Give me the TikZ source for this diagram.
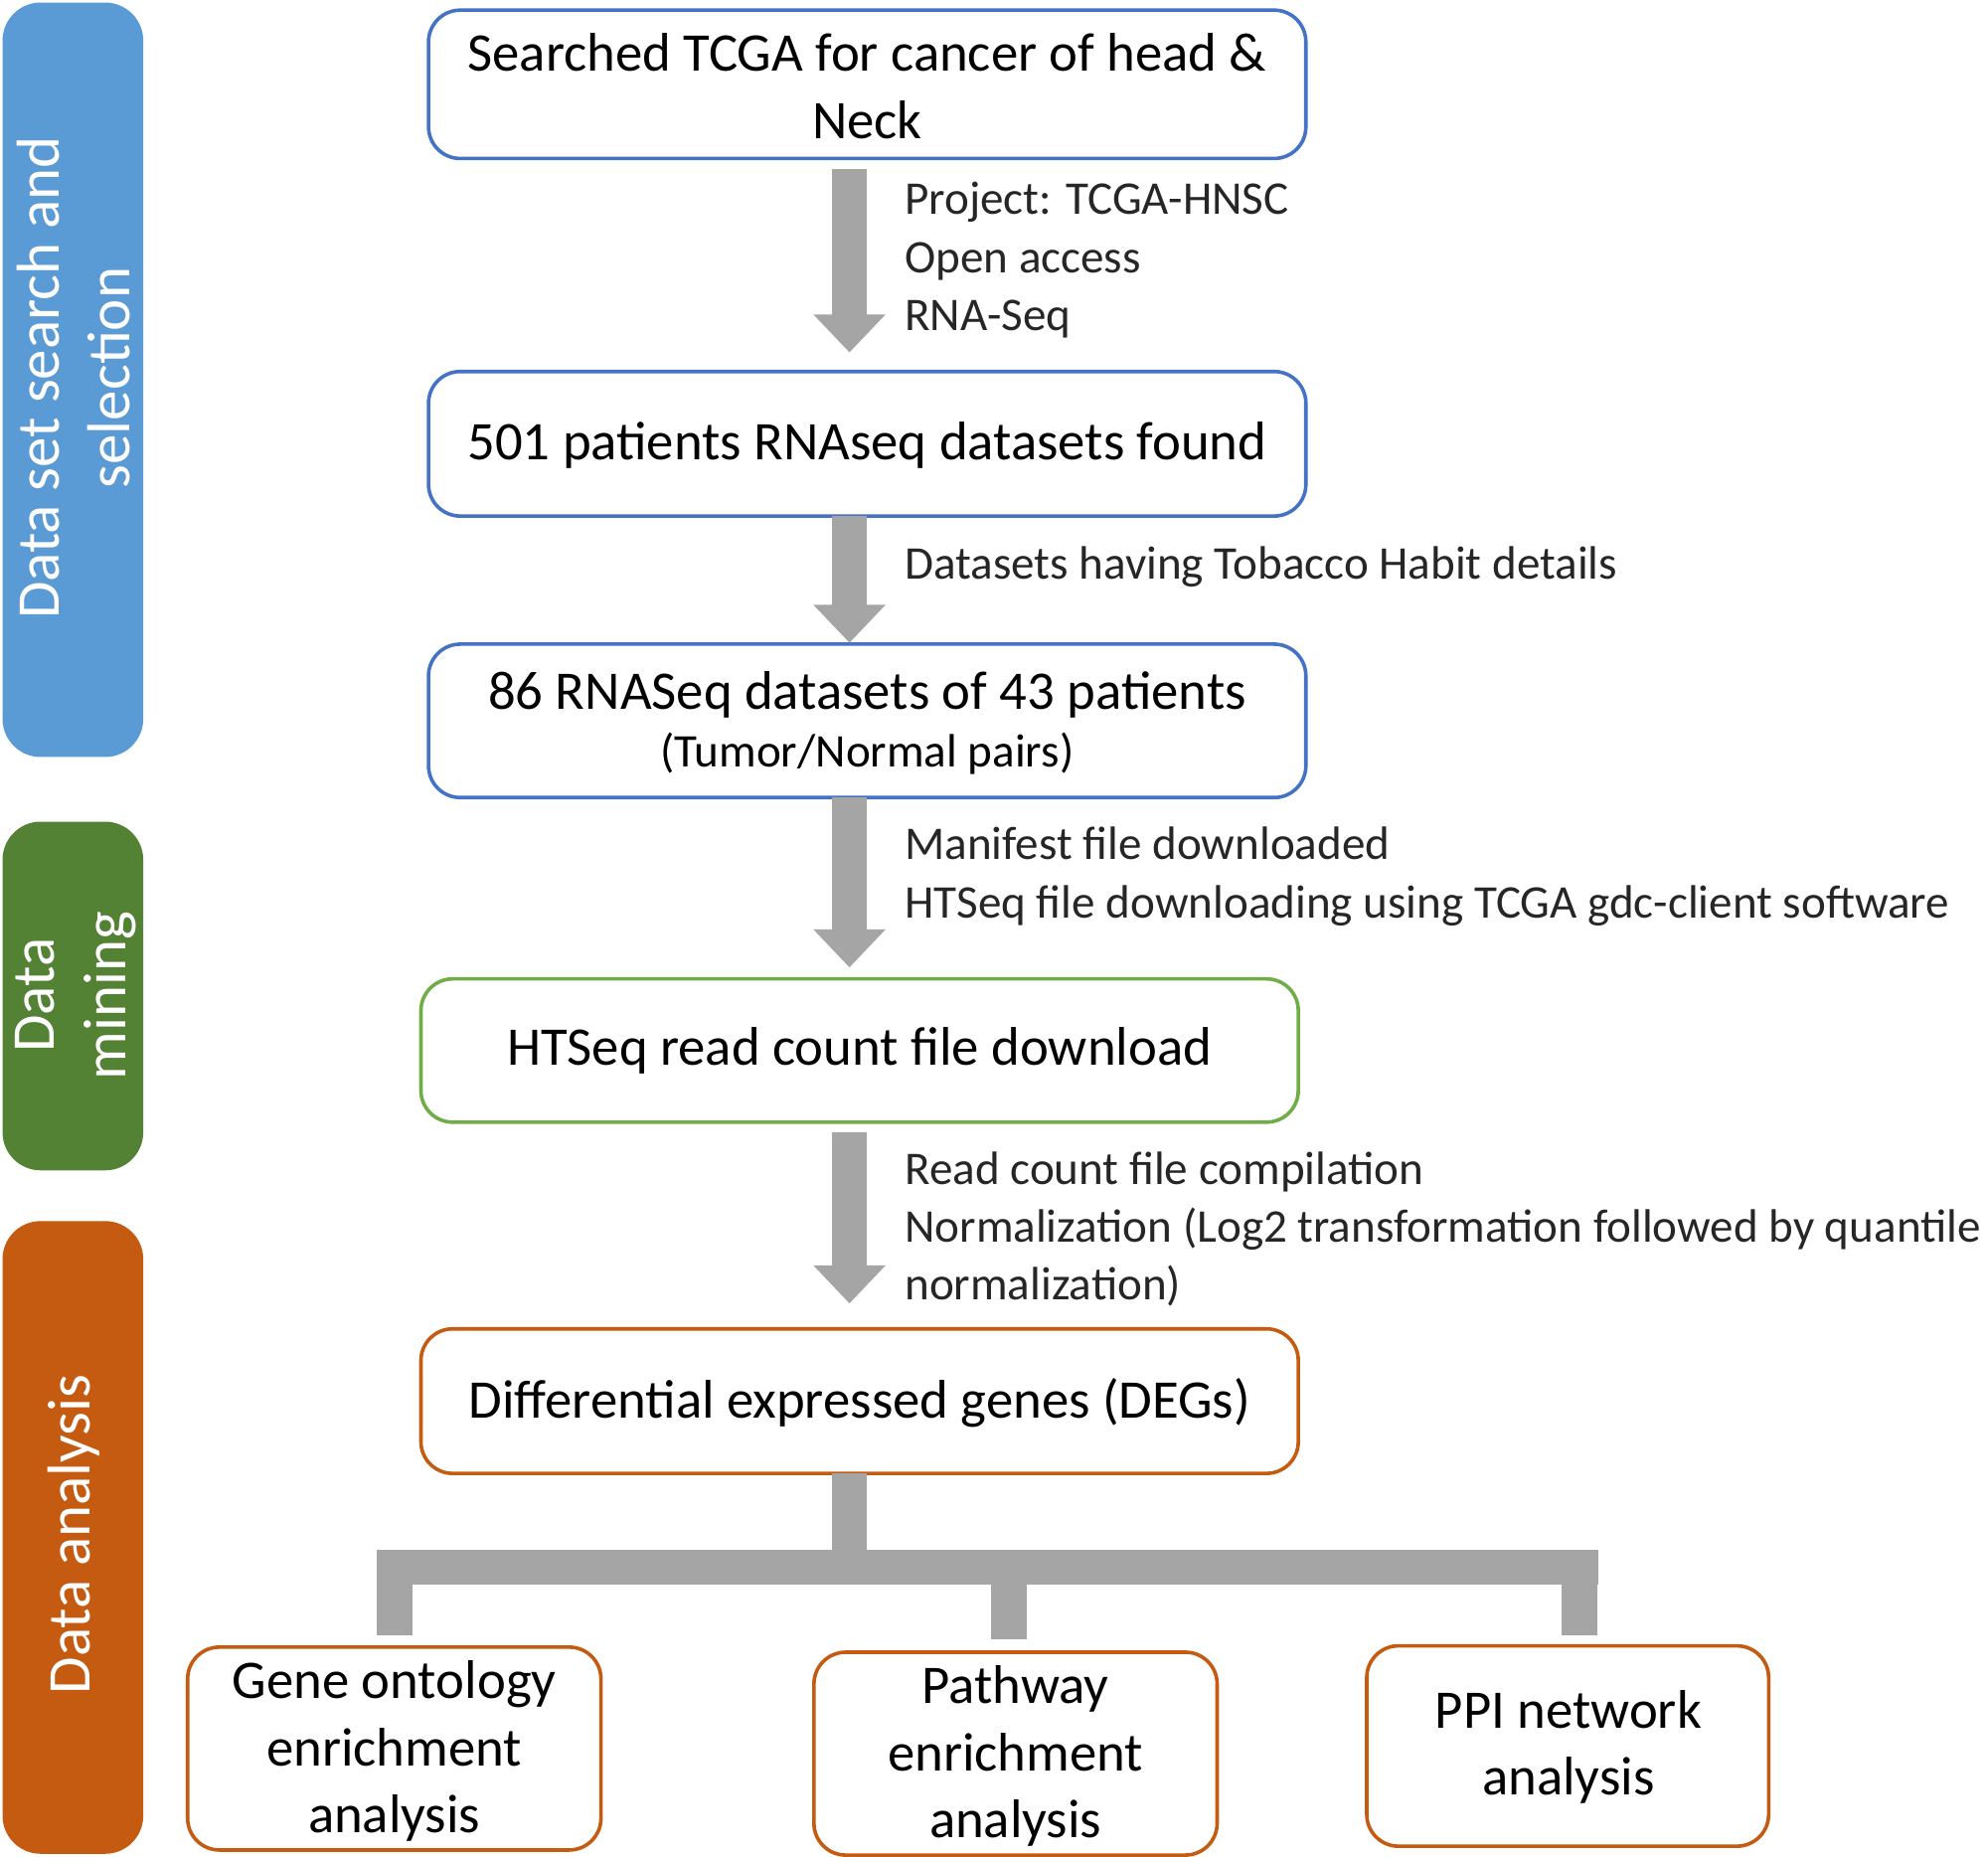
\documentclass[tikz,border=0pt]{standalone}
\usepackage{fontspec}
\setmainfont{Carlito}
\usetikzlibrary{arrows.meta}
\definecolor{sblue}{RGB}{91,155,213}
\definecolor{sgreen}{RGB}{84,130,53}
\definecolor{sorange}{RGB}{197,90,17}
\definecolor{bblue}{RGB}{68,114,196}
\definecolor{bgreen}{RGB}{112,173,71}
\definecolor{agray}{RGB}{165,165,165}
\begin{document}
\begin{tikzpicture}[x=0.01cm,y=-0.01cm,
 sidetxt/.style={rotate=90,text=white,font=\fontsize{13.6}{16}\selectfont,align=center},
 frame/.style={line width=0.8pt,rounded corners=2.5mm},
 box/.style={align=center,font=\fontsize{12.2}{15}\selectfont},
 ann/.style={anchor=base west,inner sep=0,font=\fontsize{10.5}{12}\selectfont,text=black!85},
 arr/.style={draw=agray,line width=2.8mm,-{Triangle[width=5.5mm,length=3mm]}},
 conn/.style={draw=agray,line width=2.8mm}]
\useasboundingbox (0,0) rectangle (1568,1464);
\fill[sblue,rounded corners=3mm] (2,2) rectangle (113,597);
\fill[sgreen,rounded corners=3mm] (2,648) rectangle (113,923);
\fill[sorange,rounded corners=3mm] (2,963) rectangle (113,1462);
\node[sidetxt] (s1) at (58,298) {Data set search and\\selection};
\node[sidetxt] (s2) at (60,785) {Data\\mining};
\node[sidetxt] (s3) at (58,1210) {Data analysis};

\draw[frame,bblue] (338,8) rectangle (1030,125);
\node[box] (b1) at (684,68) {Searched TCGA for cancer of head \&\\Neck};
\draw[frame,bblue] (338,293) rectangle (1030,407);
\node[box] (b2) at (684,351) {501 patients RNAseq datasets found};
\draw[frame,bblue] (338,508) rectangle (1030,629);
\node[box] (b3) at (684,570) {86 RNASeq datasets of 43 patients\\[-2pt]{\fontsize{10.5}{12}\selectfont (Tumor/Normal pairs)}};
\draw[frame,bgreen] (332,772) rectangle (1024,885);
\node[box] (b4) at (678,829) {HTSeq read count file download};
\draw[frame,sorange] (332,1048) rectangle (1024,1162);
\node[box] (b5) at (678,1106) {Differential expressed genes (DEGs)};
\draw[frame,sorange] (148,1299) rectangle (474,1459);
\node[box] (b6) at (311,1381) {Gene ontology\\enrichment\\analysis};
\draw[frame,sorange] (642,1303) rectangle (960,1463);
\node[box] (b7) at (801,1385) {Pathway\\enrichment\\analysis};
\draw[frame,sorange] (1078,1298) rectangle (1395,1456);
\node[box] (b8) at (1237,1378) {PPI network\\analysis};

\coordinate (a1s) at (670,133); \coordinate (a1e) at (670,278);
\coordinate (a2s) at (670,407); \coordinate (a2e) at (670,507);
\coordinate (a3s) at (670,629); \coordinate (a3e) at (670,763);
\coordinate (a4s) at (670,893); \coordinate (a4e) at (670,1028);
\draw[arr] (a1s) -- (a1e);
\draw[arr] (a2s) -- (a2e);
\draw[arr] (a3s) -- (a3e);
\draw[arr] (a4s) -- (a4e);

\coordinate (c0) at (670,1162); \coordinate (c1) at (670,1236);
\coordinate (cl) at (297,1236); \coordinate (cr) at (1261,1236);
\draw[conn] (c0) -- (c1);
\draw[conn] (cl) -- (cr);
\draw[conn] (311,1236) -- (311,1290);
\draw[conn] (796,1236) -- (796,1293);
\draw[conn] (1246,1236) -- (1246,1290);

\node[ann] (n1) at (713,169) {Project: TCGA-HNSC};
\node[ann] (n2) at (713,215) {Open access};
\node[ann] (n3) at (713,261) {RNA-Seq};
\node[ann] (n4) at (713,457) {Datasets having Tobacco Habit details};
\node[ann] (n5) at (713,678) {Manifest file downloaded};
\node[ann] (n6) at (713,724) {HTSeq file downloading using TCGA gdc-client software};
\node[ann] (n7) at (713,934) {Read count file compilation};
\node[ann] (n8) at (713,980) {Normalization (Log2 transformation followed by quantile};
\node[ann] (n9) at (713,1025) {normalization)};
\end{tikzpicture}
\end{document}
